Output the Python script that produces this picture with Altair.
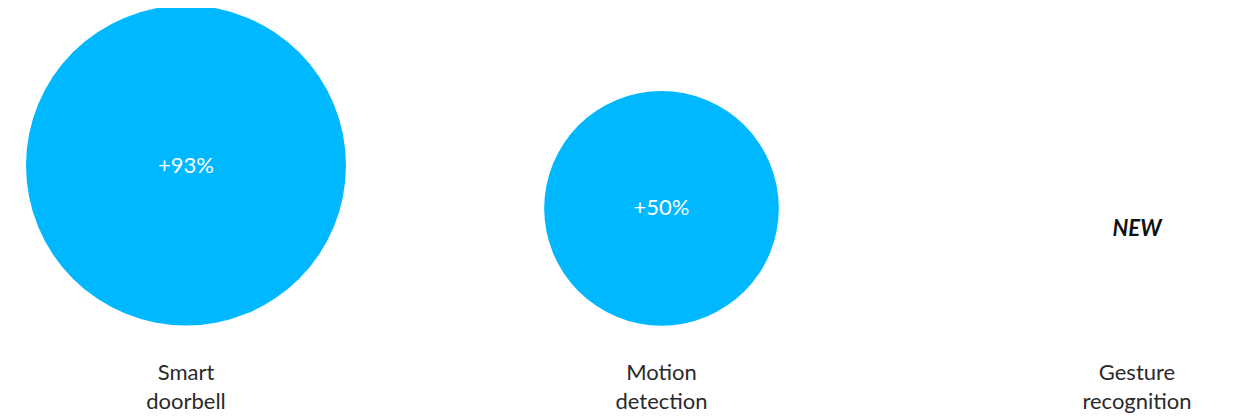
import altair as alt
import pandas as pd

categories = ["Smart doorbell", "Motion detection", "Gesture recognition"]
growth = [93, 50, None]
growth_labels = ["+93%", "+50%", ""]
new_flags = ["", "", "NEW"]

df = pd.DataFrame({
    "category": categories,
    "growth": growth,
    "label": growth_labels,
    "flag": new_flags,
})

FONT = "Lato"
BLUE = "#00B8FF"

x_enc = alt.X("category:N", sort=categories, axis=None,
              scale=alt.Scale(type="point", range=[178, 1129], padding=0))
y_enc = alt.Y("growth:Q", axis=None,
              scale=alt.Scale(type="sqrt", domain=[0, 93], range=[318, 157.5]))

base = alt.Chart(df)

circles = base.transform_filter("isValid(datum.growth)").mark_circle(
    color=BLUE, opacity=1
).encode(
    x=x_enc,
    y=y_enc,
    size=alt.Size("growth:Q", legend=None,
                  scale=alt.Scale(domain=[0, 93], range=[0, 102400], zero=True)),
)

values = base.transform_filter("isValid(datum.growth)").mark_text(
    font=FONT, fontSize=22, fontWeight=400, color="white",
    baseline="middle", align="center"
).encode(
    x=x_enc,
    y=y_enc,
    text="label:N",
)

new_text = base.transform_filter("datum.flag != ''").mark_text(
    font=FONT, fontSize=22, fontWeight="bold", fontStyle="italic",
    color="#111111", baseline="middle", align="center"
).encode(
    x=x_enc,
    y=alt.value(221),
    text="flag:N",
)

cat_labels = base.transform_calculate(
    lines="split(datum.category, ' ')"
).mark_text(
    font=FONT, fontSize=22, fontWeight=400, color="#2a2a2a",
    baseline="middle", align="center", lineHeight=29
).encode(
    x=x_enc,
    y=alt.value(365),
    text="lines:N",
)

chart = alt.layer(circles, values, new_text, cat_labels).properties(
    width=1220, height=409, padding=0,
    autosize=alt.AutoSizeParams(type="none"),
).configure_view(stroke=None)

chart.save("out.html", embed_options={"renderer": "svg", "actions": False})
